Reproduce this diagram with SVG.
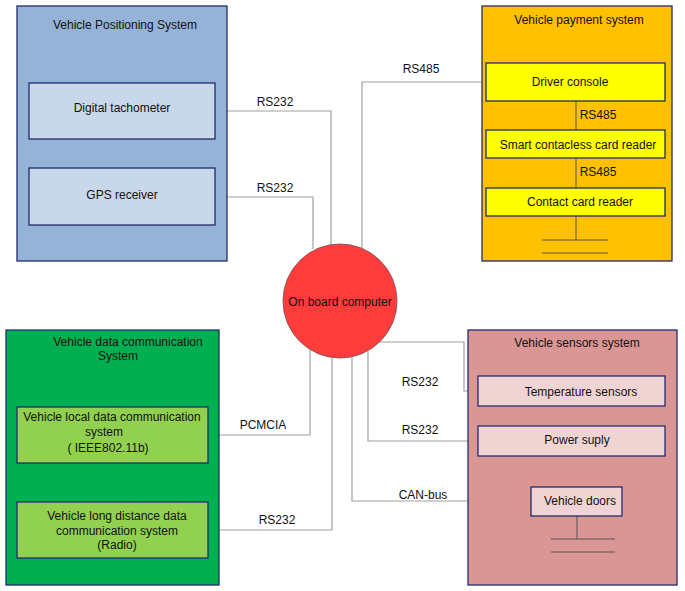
<svg xmlns="http://www.w3.org/2000/svg" width="685" height="591" viewBox="0 0 685 591">
<style>
text{font-family:"Liberation Sans",Arial,sans-serif;font-size:12px;fill:#111;text-anchor:middle;dominant-baseline:central}
.grp{stroke:#232a6e;stroke-width:1.3}
.box{stroke:#232a6e;stroke-width:1.3}
.c{fill:none;stroke:#a0a0a0;stroke-width:1.2}
.k{fill:none;stroke:#555;stroke-width:1}
</style>
<rect width="685" height="591" fill="#fff"/>
<g id="connectors">
<polyline class="c" points="215,111 331,111 331,245"/>
<polyline class="c" points="215,197 313,197 313,249"/>
<polyline class="c" points="362,248 362,82 486,82"/>
<polyline class="c" points="208,435 310,435 310,349"/>
<polyline class="c" points="208,530 332,530 332,358"/>
<polyline class="c" points="380,342 464,342 464,391 478,391"/>
<polyline class="c" points="368,351 368,441 478,441"/>
<polyline class="c" points="352,357 352,501 531,501"/>
<text x="275" y="102">RS232</text>
<text x="275" y="188">RS232</text>
<text x="421" y="69">RS485</text>
<text x="263" y="425">PCMCIA</text>
<text x="277" y="520">RS232</text>
<text x="420" y="382">RS232</text>
<text x="420" y="430">RS232</text>
<text x="423" y="495">CAN-bus</text>
</g>
<g id="positioning">
<rect class="grp" x="17" y="6" width="210" height="255" fill="#95b3d7"/>
<text x="125" y="25">Vehicle Positioning System</text>
</g>
<g id="tachometer">
<rect class="box" x="29" y="83" width="186" height="56" fill="#c9d7ea"/>
<text x="122" y="108">Digital tachometer</text>
</g>
<g id="gps">
<rect class="box" x="29" y="168" width="186" height="57" fill="#c9d7ea"/>
<text x="122" y="195">GPS receiver</text>
</g>
<g id="payment">
<rect class="grp" x="482" y="6" width="190" height="255" fill="#ffc000"/>
<text x="579" y="20">Vehicle payment system</text>
<line class="k" x1="576" y1="101" x2="576" y2="240"/>
<line class="k" x1="542" y1="240" x2="608" y2="240"/>
<line class="k" x1="542" y1="253" x2="608" y2="253"/>
<text x="598" y="115">RS485</text>
<text x="598" y="172">RS485</text>
</g>
<g id="driver-console">
<rect class="box" x="486" y="63" width="179" height="38" fill="#ffff00"/>
<text x="570" y="82">Driver console</text>
</g>
<g id="smart-reader">
<rect class="box" x="486" y="130" width="179" height="28" fill="#ffff00"/>
<text x="578" y="145">Smart contacless card reader</text>
</g>
<g id="contact-reader">
<rect class="box" x="486" y="188" width="179" height="28" fill="#ffff00"/>
<text x="580" y="202">Contact card reader</text>
</g>
<g id="computer">
<circle cx="340" cy="301" r="57" fill="#ff3b3b" stroke="#8a5a5a" stroke-width="1"/>
<text x="340" y="302">On board computer</text>
</g>
<g id="datacomm">
<rect class="grp" x="6" y="330" width="213" height="255" fill="#00b050"/>
<text x="128" y="342">Vehicle data communication</text>
<text x="118" y="356">System</text>
</g>
<g id="local-comm">
<rect class="box" x="17" y="407" width="191" height="56" fill="#92d050"/>
<text x="112" y="417">Vehicle local data communication</text>
<text x="104" y="432">system</text>
<text x="108" y="448">( IEEE802.11b)</text>
</g>
<g id="long-comm">
<rect class="box" x="17" y="502" width="191" height="56" fill="#92d050"/>
<text x="117" y="516">Vehicle long distance data</text>
<text x="117" y="531">communication system</text>
<text x="117" y="545">(Radio)</text>
</g>
<g id="sensors">
<rect class="grp" x="468" y="330" width="209" height="255" fill="#da9694"/>
<text x="577" y="343">Vehicle sensors system</text>
<line class="k" x1="577" y1="516" x2="577" y2="539"/>
<line class="k" x1="551" y1="539" x2="615" y2="539"/>
<line class="k" x1="551" y1="552" x2="615" y2="552"/>
</g>
<g id="temperature">
<rect class="box" x="478" y="376" width="187" height="30" fill="#f0d4d4"/>
<text x="581" y="392">Temperature sensors</text>
</g>
<g id="power">
<rect class="box" x="478" y="426" width="187" height="30" fill="#f0d4d4"/>
<text x="577" y="440">Power suply</text>
</g>
<g id="doors">
<rect class="box" x="531" y="487" width="91" height="29" fill="#f0d4d4"/>
<text x="580" y="501">Vehicle doors</text>
</g>
</svg>
